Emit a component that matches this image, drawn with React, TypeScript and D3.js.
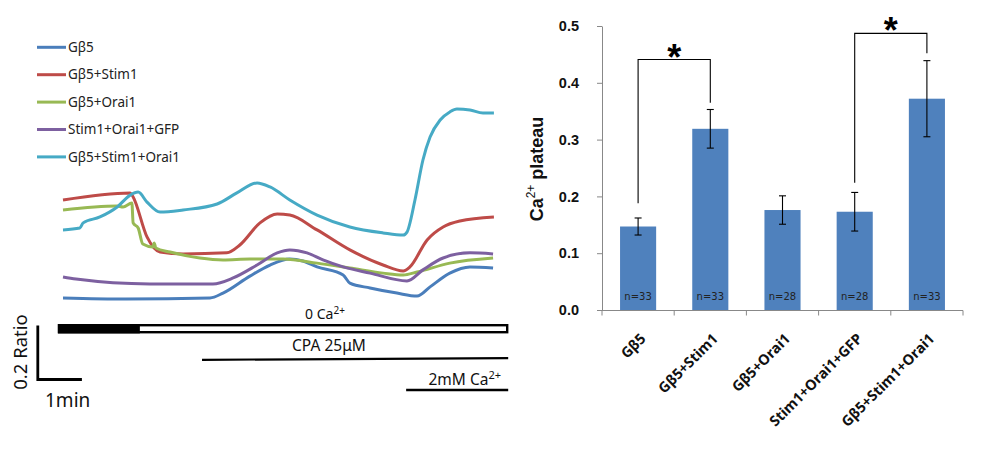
import { useEffect, useRef } from 'react'
import * as d3 from 'd3'

// traces: [time (min), fura ratio]
const gb5 = [[0, 0.452], [1.5, 0.448], [3.5, 0.452], [3.81, 0.47], [4.45, 0.533], [4.93, 0.574], [5.4, 0.596], [5.71, 0.589], [6.05, 0.567], [6.67, 0.537], [6.83, 0.507], [7.31, 0.489], [7.95, 0.47], [8.43, 0.459], [8.74, 0.493], [9.21, 0.544], [9.69, 0.567], [10.24, 0.563]]
const gb5Stim1 = [[0, 0.815], [1.6, 0.841], [1.67, 0.826], [2.0, 0.678], [2.31, 0.622], [2.86, 0.615], [3.9, 0.619], [4.21, 0.648], [4.69, 0.73], [5.1, 0.763], [5.4, 0.759], [6.05, 0.704], [6.83, 0.63], [7.62, 0.574], [8.1, 0.552], [8.26, 0.567], [8.67, 0.667], [9.05, 0.715], [9.45, 0.737], [10.26, 0.752]]
const gb5Orai1 = [[0, 0.778], [1.29, 0.793], [1.43, 0.789], [1.64, 0.804], [1.67, 0.73], [1.79, 0.711], [1.9, 0.652], [2.14, 0.641], [2.17, 0.656], [2.21, 0.637], [2.55, 0.622], [3.26, 0.6], [3.81, 0.593], [4.45, 0.596], [5.24, 0.596], [6.05, 0.581], [6.83, 0.563], [7.62, 0.544], [8.1, 0.537], [8.43, 0.548], [9.21, 0.581], [10.24, 0.6]]
const stimOraiGfp = [[0, 0.53], [0.31, 0.522], [2.07, 0.504], [3.57, 0.504], [4.05, 0.526], [4.62, 0.574], [5.1, 0.619], [5.4, 0.63], [5.81, 0.619], [6.19, 0.593], [6.67, 0.567], [7.31, 0.544], [8.19, 0.515], [8.57, 0.556], [9.05, 0.6], [9.69, 0.619], [10.24, 0.615]]
const gb5StimOrai = [[0, 0.704], [0.4, 0.711], [0.48, 0.73], [0.88, 0.752], [1.29, 0.789], [1.6, 0.833], [1.79, 0.844], [2.0, 0.807], [2.31, 0.77], [2.86, 0.778], [3.67, 0.8], [4.14, 0.841], [4.62, 0.878], [4.93, 0.863], [5.4, 0.815], [6.05, 0.759], [6.83, 0.715], [7.62, 0.693], [8.1, 0.685], [8.19, 0.696], [8.38, 0.815], [8.57, 0.963], [8.74, 1.048], [8.98, 1.111], [9.21, 1.141], [9.38, 1.152], [9.69, 1.148], [10.0, 1.137], [10.26, 1.137]]

const traceNames = ['Gβ5', 'Gβ5+Stim1', 'Gβ5+Orai1', 'Stim1+Orai1+GFP', 'Gβ5+Stim1+Orai1']
const traceData = [gb5, gb5Stim1, gb5Orai1, stimOraiGfp, gb5StimOrai]
const traceColors = ['#4a7ebb', '#be4b48', '#98b954', '#7d60a0', '#46aac5']

// protocol (min)
const zeroCa = { start: -0.12, switch: 1.83, end: 10.6 }
const cpaStart = 3.31
const caStart = 8.17

// bar chart
const groups = ['Gβ5', 'Gβ5+Stim1', 'Gβ5+Orai1', 'Stim1+Orai1+GFP', 'Gβ5+Stim1+Orai1']
const plateau = [0.147, 0.319, 0.176, 0.173, 0.372]
const sem = [0.015, 0.034, 0.025, 0.034, 0.067]
const nCells = [33, 33, 28, 28, 33]
const yTicks = [0, 0.1, 0.2, 0.3, 0.4, 0.5]
const brackets = [
  { a: 0, b: 1, top: 0.441, ya: 0.188, yb: 0.365 },
  { a: 3, b: 4, top: 0.487, ya: 0.224, yb: 0.452 },
]

const font = '"Noto Sans", "DejaVu Sans", sans-serif'
const arial = '"Liberation Sans", Arial, sans-serif'

export default function App() {
  const rootRef = useRef<SVGSVGElement>(null)

  useEffect(() => {
    const svg = d3.select(rootRef.current)
    svg.selectAll('*').remove()

    // ---- traces ----
    const tx = d3.scaleLinear().domain([0, 10]).range([63, 483])
    const ty = d3.scaleLinear().domain([0, 1.4]).range([420, 42])

    const line = d3
      .line<number[]>()
      .x((d) => tx(d[0]))
      .y((d) => ty(d[1]))
      .curve(d3.curveMonotoneX)

    const tr = svg.append('g')
    tr.selectAll('path')
      .data(traceData)
      .join('path')
      .attr('d', (d) => line(d))
      .attr('fill', 'none')
      .attr('stroke', (_, i) => traceColors[i])
      .attr('stroke-width', 3)
      .attr('stroke-linejoin', 'round')

    // legend
    const lg = svg.append('g').attr('font-family', font).attr('font-size', 13.5)
    traceNames.forEach((name, i) => {
      const y = 47.3 + i * 27.4
      lg.append('line').attr('x1', 37).attr('x2', 66).attr('y1', y).attr('y2', y).attr('stroke', traceColors[i]).attr('stroke-width', 3)
      lg.append('text').attr('x', 68).attr('y', y).attr('dy', '0.35em').attr('fill', '#222').text(name)
    })

    // protocol bars
    const pb = svg.append('g').attr('font-family', font).attr('fill', '#111')
    pb.append('rect')
      .attr('x', tx(zeroCa.start) + 1).attr('y', 325.2)
      .attr('width', tx(zeroCa.end) - tx(zeroCa.start) - 2).attr('height', 7)
      .attr('fill', '#fff').attr('stroke', '#000').attr('stroke-width', 2.4)
    pb.append('rect')
      .attr('x', tx(zeroCa.start)).attr('y', 324)
      .attr('width', tx(zeroCa.switch) - tx(zeroCa.start)).attr('height', 9.4)
      .attr('fill', '#000')
    const zc = pb.append('text').attr('x', 325).attr('y', 319).attr('text-anchor', 'middle').attr('font-size', 14)
    zc.append('tspan').text('0 Ca')
    zc.append('tspan').attr('font-size', 10).attr('dy', -5).text('2+')

    pb.append('line')
      .attr('x1', tx(cpaStart)).attr('x2', tx(zeroCa.end))
      .attr('y1', 359.8).attr('y2', 358.2)
      .attr('stroke', '#000').attr('stroke-width', 2.2)
    pb.append('text').attr('x', 329).attr('y', 351).attr('text-anchor', 'middle').attr('font-size', 15.5).text('CPA 25μM')

    pb.append('line')
      .attr('x1', tx(caStart)).attr('x2', tx(zeroCa.end))
      .attr('y1', 390).attr('y2', 390)
      .attr('stroke', '#000').attr('stroke-width', 2.4)
    const ca = pb.append('text').attr('x', 501).attr('y', 385).attr('text-anchor', 'end').attr('font-size', 15.5)
    ca.append('tspan').text('2mM Ca')
    ca.append('tspan').attr('font-size', 11).attr('dy', -6).text('2+')

    // scale bar: 1 min, 0.2 ratio
    svg.append('path')
      .attr('d', `M${tx(-0.6)},${ty(0.35)} V${ty(0.15)} H${tx(0.45)}`)
      .attr('fill', 'none').attr('stroke', '#000').attr('stroke-width', 2.8)
    svg.append('text')
      .attr('transform', `translate(27,352) rotate(-90)`)
      .attr('text-anchor', 'middle').attr('font-family', font).attr('font-size', 18.5).attr('fill', '#111')
      .text('0.2 Ratio')
    svg.append('text')
      .attr('x', 45).attr('y', 407).attr('font-family', font).attr('font-size', 19).attr('fill', '#111')
      .text('1min')

    // ---- bar chart ----
    const bx = d3.scaleBand<string>().domain(groups).range([602, 963]).paddingInner(0.5).paddingOuter(0.25)
    const by = d3.scaleLinear().domain([0, 0.5]).range([310, 26])
    const cx = (i: number) => (bx(groups[i]) as number) + bx.bandwidth() / 2

    const yAxis = svg.append('g')
      .attr('transform', 'translate(602,0)')
      .call(d3.axisLeft(by).tickValues(yTicks).tickFormat(d3.format('.1f')).tickSize(5).tickSizeOuter(0).tickPadding(18))
    yAxis.select('.domain').attr('stroke', '#888')
    yAxis.selectAll('.tick line').attr('stroke', '#888')
    yAxis.selectAll('.tick text')
      .attr('font-family', arial).attr('font-weight', 'bold').attr('font-size', 14.5).attr('fill', '#111')

    const yt = svg.append('text')
      .attr('transform', 'translate(543,169) rotate(-90)')
      .attr('text-anchor', 'middle').attr('font-family', arial).attr('font-size', 18).attr('font-weight', 'bold').attr('fill', '#111')
    yt.append('tspan').text('Ca')
    yt.append('tspan').attr('font-size', 12).attr('font-weight', 'normal').attr('dy', -8).text('2+')
    yt.append('tspan').attr('dy', 8).text('  plateau')

    svg.append('g').selectAll('rect')
      .data(plateau)
      .join('rect')
      .attr('x', (_, i) => bx(groups[i]) as number)
      .attr('y', (d) => by(d))
      .attr('width', bx.bandwidth())
      .attr('height', (d) => by(0) - by(d))
      .attr('fill', '#4f81bd')

    // x axis line with ticks at boundaries
    const xa = svg.append('g').attr('stroke', '#888').attr('stroke-width', 1)
    xa.append('line').attr('x1', 602).attr('x2', 963).attr('y1', 310.5).attr('y2', 310.5)
    d3.range(groups.length + 1).forEach((i) => {
      const x = 602 + i * bx.step()
      xa.append('line').attr('x1', x).attr('x2', x).attr('y1', 310.5).attr('y2', 315.5)
    })

    // error bars
    const eb = svg.append('g').attr('stroke', '#000').attr('stroke-width', 1.1)
    plateau.forEach((v, i) => {
      const x = cx(i)
      eb.append('line').attr('x1', x).attr('x2', x).attr('y1', by(v + sem[i])).attr('y2', by(v - sem[i]))
      eb.append('line').attr('x1', x - 3.5).attr('x2', x + 3.5).attr('y1', by(v + sem[i])).attr('y2', by(v + sem[i]))
      eb.append('line').attr('x1', x - 3.5).attr('x2', x + 3.5).attr('y1', by(v - sem[i])).attr('y2', by(v - sem[i]))
    })

    // n labels
    svg.append('g').selectAll('text')
      .data(nCells)
      .join('text')
      .attr('x', (_, i) => cx(i))
      .attr('y', 300)
      .attr('text-anchor', 'middle')
      .attr('font-family', '"DejaVu Sans", sans-serif')
      .attr('font-size', 10)
      .attr('fill', '#222')
      .text((d) => `n=${d}`)

    // significance brackets
    brackets.forEach((b) => {
      svg.append('path')
        .attr('d', `M${cx(b.a)},${by(b.ya)} V${by(b.top)} H${cx(b.b)} V${by(b.yb)}`)
        .attr('fill', 'none').attr('stroke', '#000').attr('stroke-width', 1.1)
      svg.append('text')
        .attr('x', (cx(b.a) + cx(b.b)) / 2).attr('y', by(b.top) + 10)
        .attr('text-anchor', 'middle').attr('font-family', arial)
        .attr('font-size', 36).attr('font-weight', 'bold')
        .text('*')
    })

    // category labels, rotated
    svg.append('g').selectAll('text')
      .data(groups)
      .join('text')
      .attr('transform', (_, i) => `translate(${cx(i) + 5},${336}) rotate(-45)`)
      .attr('text-anchor', 'end')
      .attr('dy', '0.35em')
      .attr('font-family', font)
      .attr('font-weight', 'bold')
      .attr('font-size', 14.5)
      .attr('fill', '#111')
      .text((d) => d)
  }, [])

  return <svg ref={rootRef} width={982} height={463} style={{ position: 'absolute', left: 0, top: 0, background: '#fff' }} />
}
